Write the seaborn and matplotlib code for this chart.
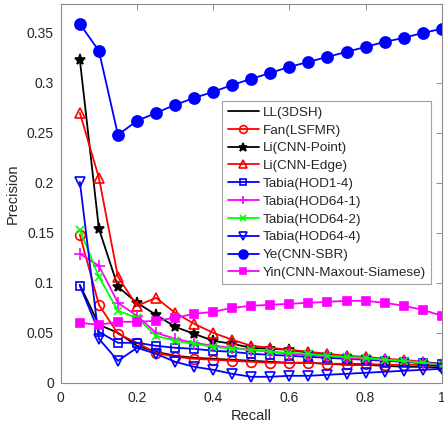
import numpy as np
import pandas as pd
import seaborn as sns
import matplotlib
matplotlib.use("Agg")
import matplotlib.pyplot as plt

recall = [0.05, 0.10, 0.15, 0.20, 0.25, 0.30, 0.35, 0.40, 0.45, 0.50,
          0.55, 0.60, 0.65, 0.70, 0.75, 0.80, 0.85, 0.90, 0.95, 1.00]

ll_3dsh = [0.098, 0.058, 0.050, 0.037, 0.031, 0.027, 0.025, 0.024, 0.023, 0.022,
           0.021, 0.020, 0.020, 0.019, 0.018, 0.018, 0.017, 0.016, 0.016, 0.015]
fan_lsfmr = [0.148, 0.078, 0.049, 0.040, 0.030, 0.026, 0.024, 0.023, 0.022, 0.021,
             0.020, 0.020, 0.020, 0.019, 0.019, 0.019, 0.018, 0.018, 0.018, 0.017]
li_point = [0.323, 0.154, 0.096, 0.080, 0.068, 0.056, 0.049, 0.042, 0.039, 0.035,
            0.034, 0.033, 0.030, 0.028, 0.026, 0.025, 0.023, 0.021, 0.020, 0.016]
li_edge = [0.270, 0.205, 0.106, 0.077, 0.085, 0.070, 0.059, 0.050, 0.043, 0.037,
           0.035, 0.033, 0.031, 0.029, 0.027, 0.026, 0.024, 0.023, 0.021, 0.019]
tabia_14 = [0.097, 0.051, 0.040, 0.040, 0.037, 0.035, 0.034, 0.032, 0.031, 0.029,
            0.028, 0.027, 0.026, 0.025, 0.024, 0.023, 0.022, 0.021, 0.020, 0.019]
tabia_641 = [0.129, 0.117, 0.080, 0.067, 0.050, 0.044, 0.040, 0.037, 0.035, 0.033,
             0.031, 0.029, 0.028, 0.027, 0.025, 0.024, 0.023, 0.022, 0.020, 0.018]
tabia_642 = [0.153, 0.106, 0.072, 0.065, 0.047, 0.042, 0.039, 0.036, 0.034, 0.033,
             0.031, 0.030, 0.029, 0.027, 0.026, 0.025, 0.023, 0.022, 0.020, 0.018]
tabia_644 = [0.201, 0.044, 0.022, 0.035, 0.029, 0.021, 0.016, 0.013, 0.009, 0.006,
             0.006, 0.007, 0.007, 0.008, 0.009, 0.010, 0.011, 0.012, 0.013, 0.014]
ye_sbr = [0.359, 0.332, 0.248, 0.262, 0.270, 0.278, 0.285, 0.291, 0.298, 0.304,
          0.310, 0.316, 0.321, 0.326, 0.331, 0.336, 0.341, 0.345, 0.350, 0.354]
yin_siamese = [0.060, 0.058, 0.061, 0.061, 0.062, 0.065, 0.069, 0.071, 0.075, 0.077,
               0.078, 0.079, 0.080, 0.081, 0.082, 0.082, 0.080, 0.077, 0.073, 0.067]

labels = ['LL(3DSH)', 'Fan(LSFMR)', 'Li(CNN-Point)', 'Li(CNN-Edge)', 'Tabia(HOD1-4)',
          'Tabia(HOD64-1)', 'Tabia(HOD64-2)', 'Tabia(HOD64-4)', 'Ye(CNN-SBR)',
          'Yin(CNN-Maxout-Siamese)']
series = [ll_3dsh, fan_lsfmr, li_point, li_edge, tabia_14, tabia_641, tabia_642,
          tabia_644, ye_sbr, yin_siamese]

# estilo de cada curva: cor, marcador, preenchido?, tamanho
estilos = [
    ('black', None, True, 0),
    ('red', 'o', False, 7),
    ('black', '*', True, 8),
    ('red', '^', False, 7),
    ('blue', 's', False, 6),
    ('magenta', '+', True, 8),
    ('lime', 'x', True, 6),
    ('blue', 'v', False, 7),
    ('blue', 'o', True, 8),
    ('magenta', 's', True, 6),
]

sns.set_style('white')
plt.rcParams['font.family'] = ['Liberation Sans', 'DejaVu Sans']

cinza = '#8a8a8a'
texto = '#262626'

fig, ax = plt.subplots(figsize=(4.44, 4.34), dpi=100)
fig.subplots_adjust(left=0.137, right=0.995, bottom=0.118, top=0.991)

for nome, vals, (cor, mk, cheio, ms) in zip(labels, series, estilos):
    kw = dict(color=cor, linewidth=1.3, ax=ax, label=nome)
    if mk is not None:
        kw.update(marker=mk, markersize=ms, markeredgecolor=cor,
                  markerfacecolor=cor if cheio else 'none', markeredgewidth=1.2)
    sns.lineplot(x=recall, y=vals, **kw)

ax.set_xlim(0, 1)
ax.set_ylim(0, 0.379)
ax.set_xticks([0, 0.2, 0.4, 0.6, 0.8, 1])
ax.set_xticklabels(['0', '0.2', '0.4', '0.6', '0.8', '1'])
ax.set_yticks([0, 0.05, 0.1, 0.15, 0.2, 0.25, 0.3, 0.35])
ax.set_yticklabels(['0', '0.05', '0.1', '0.15', '0.2', '0.25', '0.3', '0.35'])
ax.tick_params(direction='in', length=4, top=True, right=True, labelsize=10,
               color=cinza, labelcolor=texto, width=0.7)
ax.tick_params(axis='x', pad=6)
ax.tick_params(axis='y', pad=5)
for s in ax.spines.values():
    s.set_color(cinza)
    s.set_linewidth(0.8)
ax.set_xlabel('Recall', fontsize=10.5, color=texto, labelpad=3)
ax.set_ylabel('Precision', fontsize=10.5, color=texto, labelpad=5)

leg = ax.legend(loc='upper left', bbox_to_anchor=(0.424, 0.744), fontsize=9.7,
                frameon=True, fancybox=False, edgecolor=cinza, handlelength=2.3,
                labelspacing=0.4, borderpad=0.4, handletextpad=0.3, borderaxespad=0,
                markerscale=0.8)
leg.get_frame().set_linewidth(0.8)

fig.savefig('out.png', dpi=100)
